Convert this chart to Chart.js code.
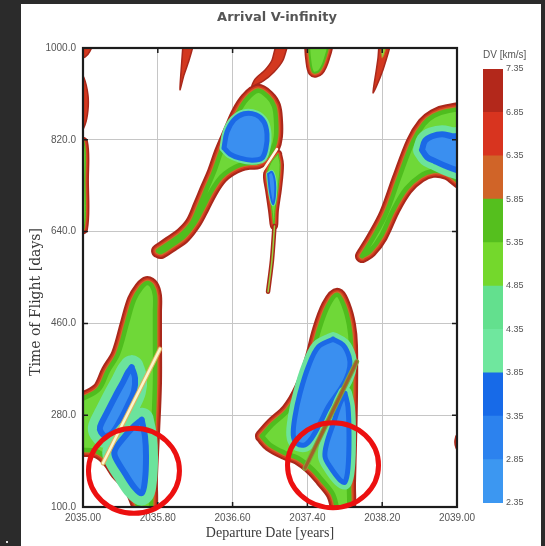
<!DOCTYPE html>
<html>
<head>
<meta charset="utf-8">
<title>Arrival V-infinity</title>
<script src="https://cdn.jsdelivr.net/npm/chart.js@4.4.1/dist/chart.umd.min.js"></script>
<style>
  html, body { margin: 0; padding: 0; }
  body { width: 545px; height: 546px; background: #2b2b2b; position: relative; overflow: hidden; }
  #panel { position: absolute; left: 21px; top: 4px; width: 520px; height: 542px; background: #fff; }
  #plot { position: absolute; left: 0; top: 0; }
  #colorbar { position: absolute; left: 457px; top: 34px; }
  #dot { position: absolute; left: 6px; top: 541px; width: 2px; height: 2px; background: #ddd; }
</style>
</head>
<body>
<div id="panel">
  <canvas id="plot" width="512" height="542"></canvas>
  <canvas id="colorbar" width="62" height="474"></canvas>
</div>
<div id="dot"></div>
<script>
/* ---------------------------------------------------------------------------
    DATA
--------------------------------------------------------------------------- */

// Axis ticks
const xTicks = [2035.0, 2035.8, 2036.6, 2037.4, 2038.2, 2039.0];
const yTicks = [100, 280, 460, 640, 820, 1000];

// Colour bar levels (DV, km/s) and the colour of each band between them
const dvLevels = [2.35, 2.85, 3.35, 3.85, 4.35, 4.85, 5.35, 5.85, 6.35, 6.85, 7.35];
const dvColors = ['#3c97f1', '#2c82ee', '#176ae8', '#6fe79e', '#63e08e',
                  '#74d82c', '#55bf1e', '#d06428', '#d8341f', '#b3281b'];

// Contour outlines: [departure year, time of flight in days]
const lobeA = [[2034.914, 306], [2035.160, 329], [2035.267, 367], [2035.374, 400], [2035.471, 461],
  [2035.545, 506], [2035.620, 529], [2035.684, 539], [2035.738, 533], [2035.770, 514], [2035.770, 482],
  [2035.770, 433], [2035.770, 343], [2035.749, 245], [2035.727, 159], [2035.717, 84], [2035.642, 84],
  [2035.503, 139], [2035.364, 167], [2035.278, 190], [2035.160, 208], [2034.914, 220]];
const lobeACoreUpper = [[2035.521, 374], [2035.556, 353], [2035.545, 327], [2035.481, 300], [2035.396, 269],
  [2035.321, 247], [2035.246, 239], [2035.192, 247], [2035.182, 257], [2035.253, 284], [2035.342, 316],
  [2035.431, 346], [2035.484, 365]];
const lobeACoreLower = [[2035.628, 271], [2035.663, 238], [2035.674, 199], [2035.663, 153], [2035.628, 127],
  [2035.556, 137], [2035.449, 166], [2035.342, 199], [2035.342, 212], [2035.414, 231], [2035.538, 257]];
const lobeARidge = [[2035.824, 410], [2035.214, 186]];

const lobeB = [[2035.802, 602], [2035.930, 618], [2036.059, 635], [2036.166, 657], [2036.251, 692],
  [2036.326, 725], [2036.401, 757], [2036.476, 796], [2036.572, 837], [2036.658, 873], [2036.754, 900],
  [2036.872, 916], [2036.979, 904], [2037.043, 886], [2037.064, 859], [2037.064, 827], [2037.032, 804],
  [2036.957, 786], [2036.872, 776], [2036.786, 775], [2036.679, 771], [2036.572, 761], [2036.476, 747],
  [2036.380, 722], [2036.283, 688], [2036.198, 659], [2036.080, 631], [2035.952, 614], [2035.834, 600]];
const lobeBCore = [[2036.508, 804], [2036.540, 835], [2036.615, 859], [2036.722, 871], [2036.850, 869],
  [2036.936, 855], [2036.968, 831], [2036.957, 804], [2036.914, 784], [2036.807, 780], [2036.679, 784],
  [2036.572, 792]];
const lobeBBranch = [[2037.086, 792], [2037.107, 771], [2037.086, 725], [2037.053, 682], [2037.043, 651],
  [2037.021, 682], [2036.989, 722], [2036.968, 751], [2037.011, 775]];
const lobeBBranchCore = [[2036.979, 753], [2037.021, 757], [2037.053, 737], [2037.053, 710], [2037.032, 694],
  [2037.000, 718]];
const lobeBStem = [[2037.048, 651], [2037.021, 584], [2036.979, 522]];
const lobeBCrack = [[2037.075, 802], [2036.914, 757]];

const lobeC = [[2036.914, 239], [2037.021, 261], [2037.193, 290], [2037.332, 333], [2037.439, 388],
  [2037.524, 447], [2037.620, 494], [2037.717, 516], [2037.791, 494], [2037.845, 457], [2037.866, 418],
  [2037.866, 310], [2037.856, 225], [2037.845, 147], [2037.834, 84], [2037.749, 84], [2037.674, 125],
  [2037.556, 153], [2037.449, 175], [2037.299, 196], [2037.160, 206], [2037.000, 222]];
const lobeCCoreUpper = [[2037.674, 429], [2037.781, 418], [2037.845, 395], [2037.853, 375], [2037.816, 352],
  [2037.745, 329], [2037.624, 297], [2037.535, 264], [2037.446, 235], [2037.374, 222], [2037.286, 225],
  [2037.249, 241], [2037.267, 277], [2037.321, 323], [2037.410, 375], [2037.517, 414]];
const lobeCCoreLower = [[2037.802, 323], [2037.834, 296], [2037.845, 237], [2037.834, 176], [2037.802, 149],
  [2037.749, 153], [2037.642, 179], [2037.588, 199], [2037.607, 225], [2037.678, 264], [2037.749, 303]];
const lobeCRidge = [[2037.927, 385], [2037.374, 176]];

const lobeD = [[2037.984, 592], [2038.102, 627], [2038.241, 675], [2038.380, 745], [2038.529, 816],
  [2038.647, 851], [2038.754, 867], [2038.893, 876], [2039.086, 875], [2039.086, 735], [2038.893, 755],
  [2038.743, 759], [2038.604, 749], [2038.455, 724], [2038.316, 682], [2038.187, 631], [2038.070, 602]];
const lobeDCore = [[2038.626, 800], [2038.658, 818], [2038.733, 827], [2038.840, 831], [2038.947, 827],
  [2039.086, 825], [2039.086, 759], [2038.990, 761], [2038.872, 769], [2038.765, 778], [2038.679, 786]];

const edgeStrip = [[2034.925, 820], [2035.011, 816], [2035.021, 741], [2035.011, 645], [2034.925, 645]];
const edgeBulge = [[2034.947, 957], [2035.011, 941], [2035.053, 908], [2035.053, 878], [2035.021, 849],
  [2034.947, 827]];
const cornerBlob = [[2034.947, 1008], [2035.096, 1008], [2035.075, 994], [2035.021, 982], [2034.947, 980]];
const spikeA = [[2036.070, 1008], [2036.176, 1008], [2036.134, 976], [2036.080, 947], [2036.037, 918],
  [2036.048, 953]];
const crescent = [[2037.193, 1008], [2037.139, 976], [2037.043, 953], [2036.925, 935], [2036.807, 925],
  [2036.840, 939], [2036.947, 957], [2037.021, 976], [2037.075, 1008]];
const topLobe = [[2037.417, 1008], [2037.428, 980], [2037.460, 953], [2037.524, 955], [2037.588, 980],
  [2037.610, 1008]];
const spikeB = [[2038.166, 1008], [2038.283, 1008], [2038.241, 976], [2038.176, 941], [2038.102, 912],
  [2038.134, 953], [2038.155, 980]];
const spikeBTip = [[2038.198, 1008], [2038.251, 1008], [2038.219, 986], [2038.198, 980], [2038.187, 992]];
const edgeBlobRight = [[2039.086, 247], [2039.011, 245], [2038.979, 231], [2038.990, 216], [2039.032, 208],
  [2039.086, 208]];

// Centres of the two red highlight rings
const highlightCenters = [[2035.545, 171], [2037.674, 182]];

/* ---------------------------------------------------------------------------
    STYLES
--------------------------------------------------------------------------- */

const darkRed = '#a9281b';
const red = '#d3381f';
const orange = '#cd6a2a';
const green = '#4fbd1e';
const lime = '#6fd838';
const mint = '#6ce39c';
const blueDark = '#1b69e6';
const blueLight = '#3a8ff0';

// Each shape is drawn as a stack of strokes on the same outline: the widest
// first, so the outer contour bands show as rings round the filled inside.
const lobeStyle = [
  { stroke: darkRed, width: 14 },
  { stroke: red, width: 10 },
  { stroke: orange, width: 7 },
  { stroke: green, width: 4.5, fill: lime },
];
const smallStyle = [
  { stroke: darkRed, width: 8 },
  { stroke: red, width: 5 },
  { stroke: orange, width: 2.5 },
  { stroke: green, width: 1, fill: lime },
];
const topStyle = [
  { stroke: darkRed, width: 10 },
  { stroke: red, width: 7 },
  { stroke: orange, width: 4.5 },
  { stroke: green, width: 2, fill: lime },
];
const sliverStyle = [{ stroke: darkRed, width: 1.5, fill: red }];
const tipStyle = [{ stroke: orange, width: 1, fill: '#8fd43a' }];
const wideCoreStyle = [
  { stroke: mint, width: 24 },
  { stroke: blueDark, width: 6, fill: blueLight },
];
const coreStyle = [
  { stroke: mint, width: 18 },
  { stroke: blueDark, width: 6, fill: blueLight },
];
const midCoreStyle = [
  { stroke: mint, width: 14 },
  { stroke: blueDark, width: 5, fill: blueLight },
];
const tightCoreStyle = [
  { stroke: mint, width: 9 },
  { stroke: blueDark, width: 5, fill: blueLight },
];
const smallCoreStyle = [
  { stroke: mint, width: 4 },
  { stroke: blueDark, width: 2, fill: blueLight },
];
const paleRidgeStyle = [{ stroke: '#e0b05a', width: 4.5 }, { stroke: '#fbf6cc', width: 2.5 }];
const brownRidgeStyle = [{ stroke: '#7fa83a', width: 5 }, { stroke: '#a2612a', width: 3 }];
const stemStyle = [{ stroke: darkRed, width: 4.5 }, { stroke: '#9ad040', width: 1.5 }];
const crackStyle = [{ stroke: '#fffbe6', width: 2.5 }];

/* ---------------------------------------------------------------------------
    DATASETS
--------------------------------------------------------------------------- */

const plotDatasets = [];

/**
 * Adds one outline as a stack of line datasets, one per style layer.
 * @param {Array} points - [x, y] pairs in data units.
 * @param {Array} layers - stroke / fill layers, drawn in order.
 * @param {boolean} closed - close the outline back to its first point.
 * @param {number} tension - bezier tension of the outline.
 */
const addShape = (points, layers, closed = true, tension = 0.35) => {
  const path = closed ? [...points, points[0]] : points;
  const data = path.map(([x, y]) => ({ x, y }));
  layers.forEach((layer) => {
    plotDatasets.push({
      data,
      showLine: true,
      borderColor: layer.stroke,
      borderWidth: layer.width,
      backgroundColor: layer.fill || 'rgba(0,0,0,0)',
      fill: layer.fill ? 'shape' : false,
      pointRadius: 0,
      pointHoverRadius: 0,
      tension,
      borderJoinStyle: 'round',
      borderCapStyle: 'round',
      clip: 0,
    });
  });
};

// Outer contour bodies
addShape(lobeA, lobeStyle);
addShape(lobeB, lobeStyle);
addShape(lobeBBranch, smallStyle);
addShape(lobeC, lobeStyle);
addShape(lobeD, lobeStyle);
addShape(edgeStrip, smallStyle);
addShape(topLobe, topStyle);

// Thin high-DV slivers
addShape(edgeBulge, sliverStyle);
addShape(cornerBlob, sliverStyle);
addShape(spikeA, sliverStyle, true, 0.2);
addShape(crescent, sliverStyle, true, 0.2);
addShape(spikeB, sliverStyle, true, 0.2);
addShape(spikeBTip, tipStyle, true, 0.2);
addShape(edgeBlobRight, sliverStyle);

// Low-DV cores
addShape(lobeACoreUpper, wideCoreStyle);
addShape(lobeACoreLower, wideCoreStyle);
addShape(lobeBCore, tightCoreStyle);
addShape(lobeBBranchCore, smallCoreStyle);
addShape(lobeCCoreUpper, midCoreStyle);
addShape(lobeCCoreLower, midCoreStyle);
addShape(lobeDCore, coreStyle);

// Discontinuity ridges
addShape(lobeARidge, paleRidgeStyle, false, 0);
addShape(lobeCRidge, brownRidgeStyle, false, 0);
addShape(lobeBStem, stemStyle, false, 0.3);
addShape(lobeBCrack, crackStyle, false, 0);

/* ---------------------------------------------------------------------------
    PLUGINS
--------------------------------------------------------------------------- */

// Black frame round the plot with short inward tick marks
const framePlugin = {
  id: 'frame',
  afterDatasetsDraw(chart) {
    const { ctx, chartArea: a, scales: { x, y } } = chart;
    ctx.save();
    ctx.strokeStyle = '#1c1c1c';
    ctx.lineWidth = 1.5;
    ctx.beginPath();
    xTicks.forEach((v) => {
      const px = x.getPixelForValue(v);
      ctx.moveTo(px, a.top);
      ctx.lineTo(px, a.top + 5);
      ctx.moveTo(px, a.bottom);
      ctx.lineTo(px, a.bottom - 5);
    });
    yTicks.forEach((v) => {
      const py = y.getPixelForValue(v);
      ctx.moveTo(a.left, py);
      ctx.lineTo(a.left + 5, py);
      ctx.moveTo(a.right, py);
      ctx.lineTo(a.right - 5, py);
    });
    ctx.stroke();
    ctx.lineWidth = 2.2;
    ctx.strokeRect(a.left, a.top, a.right - a.left, a.bottom - a.top);
    ctx.restore();
  },
};

// Red rings drawn over the finished chart
const highlightPlugin = {
  id: 'highlight',
  afterDraw(chart) {
    const { ctx, scales: { x, y } } = chart;
    ctx.save();
    ctx.strokeStyle = '#ec1010';
    ctx.lineWidth = 5;
    highlightCenters.forEach(([cx, cy]) => {
      ctx.beginPath();
      ctx.ellipse(x.getPixelForValue(cx), y.getPixelForValue(cy), 45.5, 42.5, 0, 0, Math.PI * 2);
      ctx.stroke();
    });
    ctx.restore();
  },
};

/* ---------------------------------------------------------------------------
    MAIN PLOT
--------------------------------------------------------------------------- */

const tickFont = { family: 'Liberation Sans', size: 10 };

new Chart(document.getElementById('plot'), {
  type: 'scatter',
  data: { datasets: plotDatasets.slice().reverse() },
  options: {
    responsive: false,
    animation: false,
    events: [],
    layout: { padding: 0 },
    plugins: {
      legend: { display: false },
      tooltip: { enabled: false },
      title: {
        display: true,
        text: 'Arrival V-infinity',
        color: '#555',
        font: { family: 'DejaVu Sans', size: 13, weight: 'bold' },
        padding: { top: 6, bottom: 22.4 },
      },
    },
    scales: {
      x: {
        type: 'linear',
        min: 2035,
        max: 2039,
        afterBuildTicks: (scale) => { scale.ticks = xTicks.map((value) => ({ value })); },
        afterFit: (scale) => { scale.height = 39; },
        ticks: { autoSkip: false, maxRotation: 0, padding: 5, color: '#555', font: tickFont,
          callback: (value) => Number(value).toFixed(2) },
        grid: { color: '#c6c6c6', drawTicks: false },
        border: { display: false },
        title: { display: true, text: 'Departure Date [years]', color: '#3a3a3a',
          font: { family: 'Liberation Serif', size: 14 }, padding: { top: 0, bottom: 4 } },
      },
      y: {
        type: 'linear',
        min: 100,
        max: 1000,
        afterBuildTicks: (scale) => { scale.ticks = yTicks.map((value) => ({ value })); },
        afterFit: (scale) => { scale.width = 62; },
        ticks: { autoSkip: false, padding: 7, color: '#555', font: tickFont,
          callback: (value) => Number(value).toFixed(1) },
        grid: { color: '#c6c6c6', drawTicks: false },
        border: { display: false },
        title: { display: true, text: 'Time of Flight [days]           ', color: '#3a3a3a',
          font: { family: 'DejaVu Serif', size: 14 }, padding: { top: 7, bottom: 0 } },
      },
      yRight: {
        position: 'right',
        afterFit: (scale) => { scale.width = 76; },
        ticks: { display: false },
        grid: { display: false },
        border: { display: false },
      },
    },
  },
  plugins: [framePlugin, highlightPlugin],
});

/* ---------------------------------------------------------------------------
    COLOUR BAR
--------------------------------------------------------------------------- */

new Chart(document.getElementById('colorbar'), {
  type: 'bar',
  data: {
    labels: [''],
    datasets: dvColors.map((color, i) => ({
      data: [[dvLevels[i], dvLevels[i + 1]]],
      backgroundColor: color,
      borderWidth: 0,
      barPercentage: 1,
      categoryPercentage: 1,
      grouped: false,
    })),
  },
  options: {
    responsive: false,
    animation: false,
    events: [],
    layout: { padding: { left: 5, right: 0, top: 0, bottom: 9 } },
    plugins: {
      legend: { display: false },
      tooltip: { enabled: false },
      title: {
        display: true,
        text: 'DV [km/s]',
        align: 'start',
        color: '#555',
        font: { family: 'Liberation Sans', size: 10, weight: 'normal' },
        padding: { top: 11, bottom: 8 },
      },
    },
    scales: {
      x: { display: false },
      y: {
        position: 'right',
        min: 2.35,
        max: 7.35,
        afterBuildTicks: (scale) => { scale.ticks = dvLevels.map((value) => ({ value })); },
        afterFit: (scale) => { scale.width = 37; },
        ticks: { autoSkip: false, padding: 3, color: '#555', font: { family: 'Liberation Sans', size: 9 },
          callback: (value) => Number(value).toFixed(2) },
        grid: { display: false, drawTicks: false },
        border: { display: false },
      },
    },
  },
});
</script>
</body>
</html>
